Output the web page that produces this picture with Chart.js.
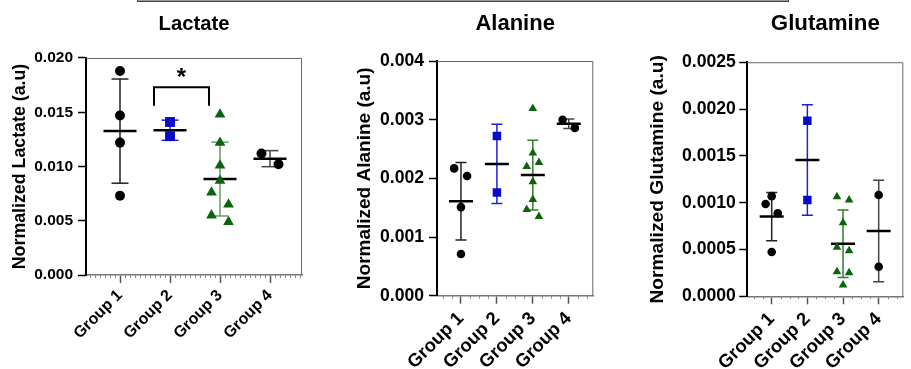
<!DOCTYPE html>
<html>
<head>
<meta charset="utf-8">
<script src="https://cdn.jsdelivr.net/npm/chart.js@4.4.1/dist/chart.umd.min.js"></script>
<style>
body { margin: 0; background: #fff; width: 911px; height: 369px; position: relative; overflow: hidden; }
.panel { position: absolute; top: 0; height: 369px; }
#topbox { position: absolute; left: 137px; top: 0; width: 650px; height: 1px; background: #999; border: 1px solid #444; border-top: none; }
</style>
</head>
<body>
<div id="topbox"></div>
<div class="panel" style="left:0;width:306px"><canvas id="lactateChart"></canvas></div>
<div class="panel" style="left:344px;width:254px"><canvas id="alanineChart"></canvas></div>
<div class="panel" style="left:636px;width:275px"><canvas id="glutamineChart"></canvas></div>
<script>
const groups = ['Group 1', 'Group 2', 'Group 3', 'Group 4'];

// Lactate
const lactateG1 = [0.0188, 0.0147, 0.0122, 0.0073];
const lactateG2 = [0.0141, 0.0128];
const lactateG3 = [0.0148, 0.0122, 0.0101, 0.0087, 0.0076, 0.0065, 0.0055, 0.0049];
const lactateG4 = [0.0112, 0.0102];
const lactateMean = [0.01326, 0.01334, 0.00884, 0.01072];
const lactateSD = [0.00480, 0.00093, 0.00340, 0.00074];
const lactateTicks = [0, 0.005, 0.010, 0.015, 0.020];
const lactateJitter = [[0, 0, 0, 0], [0, 0], [0, 0, 0, 0, -0.17, 0.17, -0.17, 0.17], [-0.17, 0.17]];
const bracketX = [1.68, 2.78];
const bracketY = [0.0156, 0.0173];
const starY = 0.0181;

// Alanine
const alanineG1 = [0.00217, 0.00204, 0.00151, 0.00071];
const alanineG2 = [0.00272, 0.00176];
const alanineG3 = [0.00319, 0.00243, 0.00220, 0.00227, 0.00194, 0.00164, 0.00147, 0.00135];
const alanineG4 = [0.00300, 0.00286];
const alanineMean = [0.00161, 0.002245, 0.002055, 0.00293];
const alanineSD = [0.00066, 0.000675, 0.000595, 0.00008];
const alanineTicks = [0, 0.001, 0.002, 0.003, 0.004];
const alanineJitter = [[-0.19, 0.17, 0, 0], [0, 0], [0, 0, -0.17, 0.17, 0, 0, -0.17, 0.17], [-0.17, 0.17]];

// Glutamine
const glutamineG1 = [0.000986, 0.00107, 0.000887, 0.000473];
const glutamineG2 = [0.001876, 0.001029];
const glutamineG3 = [0.001064, 0.001029, 0.000786, 0.000523, 0.000487, 0.000263, 0.000252, 0.000121];
const glutamineG4 = [0.001082, 0.000316];
const glutamineMean = [0.000852, 0.001456, 0.000562, 0.000698];
const glutamineSD = [0.000258, 0.000591, 0.00036, 0.000542];
const glutamineTicks = [0, 0.0005, 0.0010, 0.0015, 0.0020, 0.0025];
const glutamineJitter = [[-0.17, 0, 0.17, 0], [0, 0], [-0.17, 0.17, 0, -0.17, 0.17, -0.17, 0.17, 0], [0, 0]];

Chart.defaults.font.family = '"Liberation Sans", Arial, Helvetica, sans-serif';
Chart.defaults.font.weight = 'bold';
Chart.defaults.color = '#000';

const groupStyle = [
    { color: '#000000', bar: '#222222', shape: 'circle' },
    { color: '#0a0acb', bar: '#1f1fe0', shape: 'rect' },
    { color: '#0b640b', bar: '#2f7d2f', shape: 'triangle' },
    { color: '#000000', bar: '#444444', shape: 'circle' }
];

// draws plot frame, minor x ticks and significance star
const framePlugin = {
    id: 'frame',
    afterDraw(chart) {
        const o = chart.options.plugins.frame;
        const a = chart.chartArea;
        const x = chart.scales.x;
        const ctx = chart.ctx;
        ctx.save();
        ctx.strokeStyle = '#666';
        ctx.lineWidth = 1;
        ctx.beginPath();
        ctx.moveTo(a.left, a.top + 0.5);
        ctx.lineTo(a.right - 0.5, a.top + 0.5);
        ctx.lineTo(a.right - 0.5, a.bottom);
        ctx.stroke();
        ctx.strokeStyle = '#888';
        ctx.beginPath();
        for (let v = Math.ceil(x.min / o.minorStep) * o.minorStep; v <= x.max; v += o.minorStep) {
            if (Math.abs(v - Math.round(v)) < 0.01) continue;
            const px = Math.round(x.getPixelForValue(v)) + 0.5;
            ctx.moveTo(px, a.bottom);
            ctx.lineTo(px, a.bottom + 3);
        }
        ctx.stroke();
        if (o.star) {
            ctx.fillStyle = '#000';
            ctx.font = 'bold 24px "Liberation Sans", Arial, sans-serif';
            ctx.textAlign = 'center';
            ctx.textBaseline = 'middle';
            ctx.fillText('*', x.getPixelForValue(o.star.x), chart.scales.y.getPixelForValue(o.star.y));
        }
        ctx.restore();
    }
};

function makePanel(id, p) {
    const datasets = [];
    p.series.forEach((vals, g) => {
        const st = groupStyle[g];
        datasets.push({
            data: vals.map((v, i) => ({ x: g + 1 + p.jitter[g][i], y: v })),
            pointStyle: st.shape,
            pointRadius: p.radius[st.shape],
            pointBackgroundColor: st.color,
            pointBorderColor: st.color,
            pointBorderWidth: 0,
            order: 0
        });
        datasets.push({
            data: [{ x: g + 1, y: p.mean[g] - p.sd[g] }, { x: g + 1, y: p.mean[g] + p.sd[g] }],
            showLine: true,
            borderColor: (p.barColors || [])[g] || st.bar,
            borderWidth: 1.5,
            pointRadius: 0,
            order: 3
        });
    });
    datasets.push({
        data: p.mean.flatMap((m, g) => [{ x: g + 1, y: m + p.sd[g] }, { x: g + 1, y: m - p.sd[g] }]),
        pointStyle: 'line',
        pointRadius: p.capR,
        pointBorderWidth: 1.5,
        pointBorderColor: p.mean.flatMap((m, g) => {
            const c = (p.barColors || [])[g] || groupStyle[g].bar;
            return [c, c];
        }),
        order: 2
    });
    datasets.push({
        data: p.mean.map((m, g) => ({ x: g + 1, y: m })),
        pointStyle: 'line',
        pointRadius: p.meanR,
        pointBorderWidth: 2.5,
        pointBorderColor: '#000',
        order: 1
    });
    if (p.bracket) {
        datasets.push({
            data: [
                { x: p.bracket.x[0], y: p.bracket.y[0] }, { x: p.bracket.x[0], y: p.bracket.y[1] },
                { x: p.bracket.x[1], y: p.bracket.y[1] }, { x: p.bracket.x[1], y: p.bracket.y[0] }
            ],
            showLine: true,
            borderColor: '#000',
            borderWidth: 2,
            pointRadius: 0,
            order: 0
        });
    }

    new Chart(document.getElementById(id), {
        type: 'scatter',
        data: { datasets },
        plugins: [framePlugin],
        options: {
            responsive: true,
            maintainAspectRatio: false,
            animation: false,
            events: [],
            layout: { autoPadding: false, padding: { left: 0, right: p.padRight, top: 0, bottom: 0 } },
            plugins: {
                legend: { display: false },
                tooltip: { enabled: false },
                title: {
                    display: true,
                    text: p.title,
                    fullSize: false,
                    font: { size: p.titleSize, weight: 'bold' },
                    color: '#000',
                    padding: { top: p.titlePad[0], bottom: p.titlePad[1] }
                },
                frame: { minorStep: p.minorStep, star: p.star }
            },
            scales: {
                x: {
                    type: 'linear',
                    min: p.xRange[0],
                    max: p.xRange[1],
                    offset: false,
                    afterBuildTicks: s => { s.ticks = groups.map((gname, i) => ({ value: i + 1 })); },
                    afterFit: s => {
                        s.height = p.xAxisH;
                        s.paddingLeft = 0;
                        s.paddingRight = 0;
                    },
                    ticks: {
                        autoSkip: false,
                        minRotation: 45,
                        maxRotation: 45,
                        padding: p.xLabelPad,
                        font: { size: p.xLabelSize, weight: 'bold' },
                        color: '#000',
                        callback: (v, i) => groups[i]
                    },
                    grid: { drawOnChartArea: false, offset: false, tickLength: 8, tickWidth: 1.5, tickColor: '#555' },
                    border: { color: '#777', width: 1.5 }
                },
                y: {
                    min: p.yTicks[0],
                    max: p.yTicks[p.yTicks.length - 1],
                    afterBuildTicks: s => { s.ticks = p.yTicks.map(v => ({ value: v })); },
                    afterFit: s => { s.width = p.yAxisW; },
                    ticks: {
                        padding: p.yTickPad,
                        font: { size: p.tickSize, weight: 'bold' },
                        color: '#000',
                        callback: v => v.toFixed(p.decimals)
                    },
                    grid: { drawOnChartArea: false, tickLength: 8, tickWidth: 1.5, tickColor: '#000' },
                    border: { color: '#000', width: 2 },
                    title: {
                        display: true,
                        text: p.yTitle,
                        font: { size: p.yTitleSize, weight: 'bold' },
                        color: '#000',
                        padding: { top: 9.7, bottom: 0 }
                    }
                }
            }
        }
    });
}

makePanel('lactateChart', {
    title: 'Lactate', yTitle: 'Normalized Lactate (a.u)',
    series: [lactateG1, lactateG2, lactateG3, lactateG4],
    jitter: lactateJitter, mean: lactateMean, sd: lactateSD, yTicks: lactateTicks, decimals: 3,
    barColors: [null, null, '#5f9f5f', null],
    radius: { circle: 5, rect: 7, triangle: 6.2 }, meanR: 16.5, capR: 8.5,
    xRange: [0.32, 4.64], minorStep: 0.1,
    titleSize: 20.3, titlePad: [11.8, 21.8], tickSize: 15.5, yTitleSize: 17.8, xLabelSize: 16, xLabelPad: 3,
    yAxisW: 86, xAxisH: 94, padRight: 4, yTickPad: 5,
    bracket: { x: bracketX, y: bracketY },
    star: { x: (bracketX[0] + bracketX[1]) / 2, y: starY }
});

makePanel('alanineChart', {
    title: 'Alanine', yTitle: 'Normalized Alanine (a.u)',
    series: [alanineG1, alanineG2, alanineG3, alanineG4],
    jitter: alanineJitter, mean: alanineMean, sd: alanineSD, yTicks: alanineTicks, decimals: 3,
    radius: { circle: 4.3, rect: 6, triangle: 5 }, meanR: 12, capR: 5.5,
    xRange: [0.333, 4.683], minorStep: 0.25,
    titleSize: 22, titlePad: [10.8, 23.8], tickSize: 17.6, yTitleSize: 19, xLabelSize: 18.5, xLabelPad: 4,
    yAxisW: 93, xAxisH: 73.3, padRight: 4.7, yTickPad: 5
});

makePanel('glutamineChart', {
    title: 'Glutamine', yTitle: 'Normalized Glutamine (a.u)',
    series: [glutamineG1, glutamineG2, glutamineG3, glutamineG4],
    jitter: glutamineJitter, mean: glutamineMean, sd: glutamineSD, yTicks: glutamineTicks, decimals: 4,
    radius: { circle: 4.3, rect: 6, triangle: 5 }, meanR: 12, capR: 5.5,
    xRange: [0.316, 4.69], minorStep: 0.25,
    titleSize: 22.3, titlePad: [10.6, 24.9], tickSize: 17.6, yTitleSize: 19.2, xLabelSize: 18.5, xLabelPad: 4,
    yAxisW: 111.3, xAxisH: 72.7, padRight: 7.7, yTickPad: 3.5
});
</script>
</body>
</html>
